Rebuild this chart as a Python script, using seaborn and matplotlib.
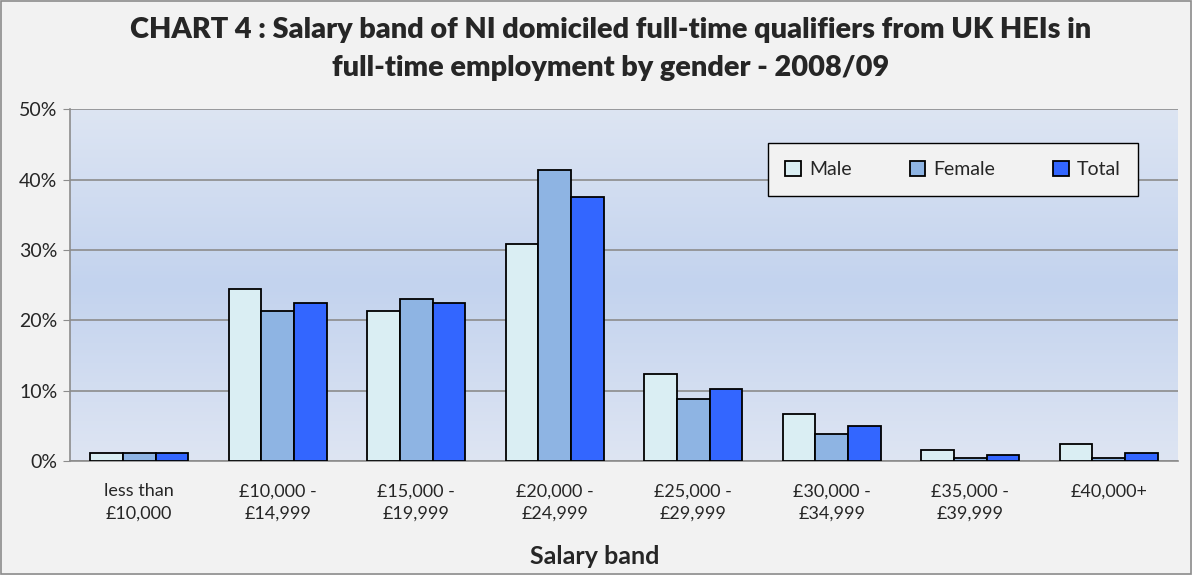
import numpy as np
import pandas as pd
import seaborn as sns
import matplotlib.pyplot as plt
from matplotlib.colors import LinearSegmentedColormap
from matplotlib.patches import Rectangle

# salary bands and percentages
bands = ['less than\n£10,000', '£10,000 -\n£14,999', '£15,000 -\n£19,999', '£20,000 -\n£24,999',
         '£25,000 -\n£29,999', '£30,000 -\n£34,999', '£35,000 -\n£39,999', '£40,000+']
male = [1.1, 24.5, 21.3, 30.8, 12.4, 6.7, 1.6, 2.4]
female = [1.1, 21.3, 23.0, 41.3, 8.9, 3.8, 0.5, 0.5]
total = [1.1, 22.4, 22.4, 37.5, 10.2, 5.0, 0.9, 1.1]
groups = ['Male', 'Female', 'Total']
colors = ['#DAEEF3', '#8EB4E3', '#3366FF']

df = pd.DataFrame({
    'band': bands * 3,
    'pct': male + female + total,
    'group': [g for g in groups for _ in bands],
})

sns.set_style('white')
plt.rcParams['font.family'] = ['Lato', 'DejaVu Sans']

fig = plt.figure(figsize=(11.92, 5.75), dpi=100, facecolor='#F2F2F2')
fig.patches.append(Rectangle((0.001, 0.001), 0.998, 0.997, transform=fig.transFigure,
                             fill=False, edgecolor='#8C8C8C', linewidth=1.2))
ax = fig.add_axes([0.0587, 0.198, 0.9295, 0.612])

# vertical gradient background like the Excel plot area
cmap = LinearSegmentedColormap.from_list('bg', ['#DDE5F3', '#C3D3EE', '#DEE5F3'])
grad = np.linspace(0, 1, 256).reshape(-1, 1)
ax.imshow(grad, aspect='auto', cmap=cmap, extent=[-0.5, 7.5, 0, 50], origin='upper', zorder=0)

sns.barplot(data=df, x='band', y='pct', hue='group', palette=colors, width=0.71, gap=0,
            edgecolor='black', linewidth=1.3, saturation=1, ax=ax, zorder=3)

ax.set_xlim(-0.5, 7.5)
ax.set_ylim(0, 50)
ax.set_yticks(range(0, 51, 10))
ax.set_yticklabels([f'{v}%' for v in range(0, 51, 10)], fontsize=14)
ax.yaxis.grid(True, color='#8C8C8C', linewidth=1.2)
for g in ax.get_ygridlines():
    g.set_zorder(1)
ax.tick_params(axis='y', length=5, color='#8C8C8C', pad=4, left=True)
ax.tick_params(axis='x', length=0, labelsize=13, pad=16)
for lbl in ax.get_xticklabels():
    lbl.set_linespacing(1.45)
for s in ['top', 'right']:
    ax.spines[s].set_visible(False)
ax.spines['left'].set_color('#8C8C8C')
ax.spines['bottom'].set_color('#8C8C8C')
ax.spines['left'].set_linewidth(1.2)
ax.spines['bottom'].set_linewidth(1.2)
ax.set_ylabel('')
ax.set_xlabel('Salary band', fontsize=18, fontweight='bold', va='center')
ax.xaxis.set_label_coords(0.474, -0.27)

leg = ax.legend(loc='upper left', bbox_to_anchor=(0.630, 0.903), borderaxespad=0, ncol=3,
                frameon=True, fontsize=14, handlelength=0.8, handleheight=0.8,
                handletextpad=0.4, columnspacing=3.0, borderpad=0.9, fancybox=False, title=None)
leg.get_frame().set_facecolor('#F2F2F2')
leg.get_frame().set_edgecolor('black')
leg.get_frame().set_linewidth(1.0)
leg.get_frame().set_alpha(1)

fig.text(0.512, 0.948, 'CHART 4 : Salary band of NI domiciled full-time qualifiers from UK HEIs in',
         ha='center', va='center', fontsize=20.8, fontweight='heavy')
fig.text(0.512, 0.882, 'full-time employment by gender - 2008/09',
         ha='center', va='center', fontsize=20.8, fontweight='heavy')

fig.savefig('out.png', dpi=100, facecolor=fig.get_facecolor())
